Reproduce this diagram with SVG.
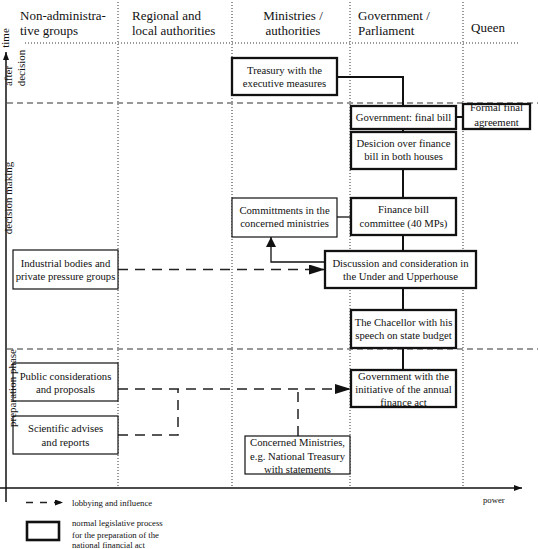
<svg xmlns="http://www.w3.org/2000/svg" width="538" height="549" viewBox="0 0 538 549" font-family="'Liberation Serif', 'Times New Roman', serif">
<defs>
<style>
text{font-family:"Liberation Serif","Times New Roman",serif;fill:#111}
.hdr{font-size:13px}
.bt{font-size:10.7px;text-anchor:middle}
.side{font-size:11px;text-anchor:middle}
.leg{font-size:8.7px}
.thick{fill:#fff;stroke:#111;stroke-width:2.3}
.thin{fill:#fff;stroke:#111;stroke-width:1.2}
.dot{stroke:#333;stroke-width:1;stroke-dasharray:1 2;fill:none}
.phase{stroke:#333;stroke-width:1.2;stroke-dasharray:6 4;fill:none}
.solid{stroke:#111;stroke-width:2;fill:none}
.solidthin{stroke:#111;stroke-width:1.3;fill:none}
.lobby{stroke:#222;stroke-width:1.5;stroke-dasharray:10 7;fill:none}
</style>
<marker id="arrBig" markerUnits="userSpaceOnUse" markerWidth="16" markerHeight="10" refX="16" refY="5" orient="auto"><path d="M0,0 L16,5 L0,10 Z" fill="#111"/></marker>
<marker id="arrMid" markerUnits="userSpaceOnUse" markerWidth="10" markerHeight="10" refX="10" refY="5" orient="auto"><path d="M0,0 L10,5 L0,10 Z" fill="#111"/></marker>
<marker id="arrSmall" markerUnits="userSpaceOnUse" markerWidth="8" markerHeight="6" refX="8" refY="3" orient="auto"><path d="M0,0 L8,3 L0,6 Z" fill="#111"/></marker>
</defs>
<rect width="538" height="549" fill="#fff"/>

<g id="grid">
<line class="dot" x1="118" y1="2" x2="118" y2="488"/>
<line class="dot" x1="232" y1="2" x2="232" y2="488"/>
<line class="dot" x1="350" y1="2" x2="350" y2="488"/>
<line class="dot" x1="463" y1="2" x2="463" y2="488"/>
<line class="dot" x1="25" y1="43" x2="518" y2="43"/>
<line class="phase" x1="7" y1="103" x2="538" y2="103"/>
<line class="phase" x1="7" y1="349" x2="538" y2="349"/>
</g>

<g id="axes">
<line x1="6" y1="502" x2="6" y2="52" stroke="#111" stroke-width="1.5" marker-end="url(#arrSmall)"/>
<line x1="0" y1="488" x2="522" y2="488" stroke="#111" stroke-width="1.5" marker-end="url(#arrSmall)"/>
<text class="leg" x="483" y="503">power</text>
</g>

<g id="headers">
<text class="hdr" x="20" y="19.5">Non-administra-</text>
<text class="hdr" x="20" y="34.5">tive groups</text>
<text class="hdr" x="132" y="19.5">Regional and</text>
<text class="hdr" x="132" y="34.5">local authorities</text>
<text class="hdr" x="293" y="19.5" text-anchor="middle">Ministries /</text>
<text class="hdr" x="293" y="34.5" text-anchor="middle">authorities</text>
<text class="hdr" x="358" y="19.5">Government /</text>
<text class="hdr" x="358" y="34.5">Parliament</text>
<text class="hdr" x="471" y="31.5">Queen</text>
</g>

<g id="connectors">
<polyline class="solid" points="337,77 403,77 403,106"/>
<line class="solid" x1="456" y1="117" x2="463" y2="117"/>
<line class="solid" x1="403" y1="129" x2="403" y2="132"/>
<line class="solid" x1="403" y1="169" x2="403" y2="198"/>
<line class="solidthin" x1="337" y1="217" x2="351" y2="217"/>
<line class="solid" x1="403" y1="235" x2="403" y2="251"/>
<polyline class="solidthin" points="325,262 271,262 271,237" marker-end="url(#arrMid)"/>
<line class="solid" x1="403" y1="288" x2="403" y2="310"/>
<line class="solid" x1="403" y1="348" x2="403" y2="370"/>
<line class="lobby" x1="118" y1="269.5" x2="325" y2="269.5" marker-end="url(#arrBig)"/>
<line class="lobby" x1="118" y1="389" x2="351" y2="389" marker-end="url(#arrBig)"/>
<polyline class="lobby" points="118,435 178,435 178,389"/>
<line class="lobby" x1="298" y1="436" x2="298" y2="389"/>
</g>

<g id="treasury">
<rect class="thick" x="232" y="58" width="105" height="37"/>
<text class="bt" x="284.5" y="74">Treasury with the</text>
<text class="bt" x="284.5" y="87">executive measures</text>
</g>
<g id="final-bill">
<rect class="thick" x="351" y="106" width="105" height="23"/>
<text class="bt" x="403.5" y="120.5">Government: final bill</text>
</g>
<g id="formal-agreement">
<rect class="thick" x="463" y="104" width="67" height="25"/>
<text class="bt" x="496.5" y="110.5">Formal final</text>
<text class="bt" x="496.5" y="125.5">agreement</text>
</g>
<g id="decision-houses">
<rect class="thick" x="351" y="132" width="105" height="37"/>
<text class="bt" x="403.5" y="147">Desicion over finance</text>
<text class="bt" x="403.5" y="160">bill in both houses</text>
</g>
<g id="finance-committee">
<rect class="thick" x="351" y="198" width="105" height="37"/>
<text class="bt" x="403.5" y="213">Finance bill</text>
<text class="bt" x="403.5" y="227">committee (40 MPs)</text>
</g>
<g id="committments">
<rect class="thin" x="232" y="198" width="105" height="39"/>
<text class="bt" x="284.5" y="213.5">Committments in the</text>
<text class="bt" x="284.5" y="227">concerned ministries</text>
</g>
<g id="discussion">
<rect class="thick" x="325" y="251" width="151" height="37"/>
<text class="bt" x="400.5" y="267">Discussion and consideration in</text>
<text class="bt" x="400.5" y="280">the Under and Upperhouse</text>
</g>
<g id="industrial">
<rect class="thin" x="13" y="250" width="105" height="39"/>
<text class="bt" x="65.5" y="267">Industrial bodies and</text>
<text class="bt" x="65.5" y="280">private pressure groups</text>
</g>
<g id="chancellor">
<rect class="thick" x="351" y="310" width="105" height="38"/>
<text class="bt" x="403.5" y="326">The Chacellor with his</text>
<text class="bt" x="403.5" y="339">speech on state budget</text>
</g>
<g id="gov-initiative">
<rect class="thick" x="351" y="370" width="105" height="37"/>
<text class="bt" x="403.5" y="379.5">Government with the</text>
<text class="bt" x="403.5" y="392.5">initiative of the annual</text>
<text class="bt" x="403.5" y="405.5">finance act</text>
</g>
<g id="public">
<rect class="thin" x="13" y="363" width="105" height="38"/>
<text class="bt" x="65.5" y="379.5">Public considerations</text>
<text class="bt" x="65.5" y="392.5">and proposals</text>
</g>
<g id="scientific">
<rect class="thin" x="13" y="416" width="105" height="38"/>
<text class="bt" x="65.5" y="432">Scientific advises</text>
<text class="bt" x="65.5" y="445.5">and reports</text>
</g>
<g id="concerned-ministries">
<rect class="thin" x="245" y="436" width="105" height="38"/>
<text class="bt" x="297.5" y="446">Concerned Ministries,</text>
<text class="bt" x="297.5" y="459.5">e.g. National Treasury</text>
<text class="bt" x="297.5" y="472.5">with statements</text>
</g>

<g id="axis-labels">
<text class="side" transform="translate(9,38) rotate(-90)">time</text>
<text class="side" transform="translate(12,76) rotate(-90)">after</text>
<text class="side" transform="translate(25,68) rotate(-90)">decision</text>
<text class="side" transform="translate(12,198) rotate(-90)">decision making</text>
<text class="side" transform="translate(16,388) rotate(-90)">preparation phase</text>
</g>

<g id="legend">
<line class="lobby" x1="26" y1="502.5" x2="63" y2="502.5" style="stroke-dasharray:7 7" marker-end="url(#arrSmall)"/>
<text class="leg" x="72" y="506">lobbying and influence</text>
<rect x="27" y="522" width="32" height="18" fill="#fff" stroke="#111" stroke-width="2.6"/>
<text class="leg" x="72" y="526">normal legislative process</text>
<text class="leg" x="72" y="538">for the preparation of the</text>
<text class="leg" x="72" y="548">national financial act</text>
</g>
</svg>
